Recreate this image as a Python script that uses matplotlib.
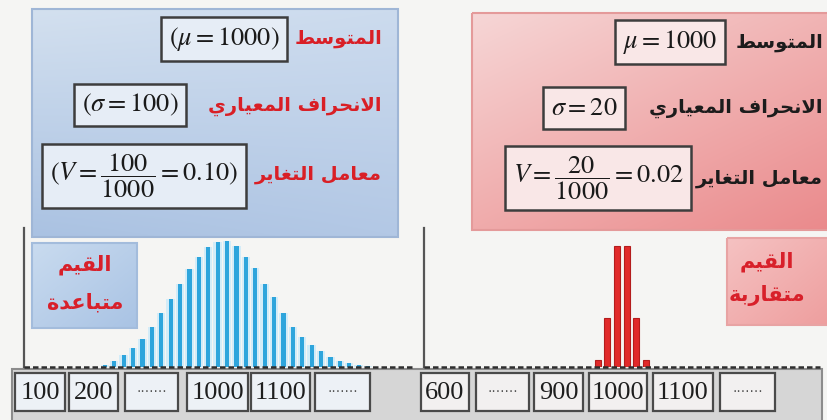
import numpy as np
import matplotlib
matplotlib.use("Agg")
import matplotlib.pyplot as plt
from matplotlib.patches import Rectangle
from matplotlib.colors import to_rgb

# ---- data -------------------------------------------------------------
mean_value = 1000
sigma_spread = 100
sigma_close = 20

# bar heights (relative frequency) of the widely spread values
spread_freq = [2, 6, 12, 19, 28, 40, 54, 68, 83, 98, 110, 120, 125, 126,
               121, 110, 99, 83, 70, 54, 40, 30, 22, 16, 10, 6, 4, 2, 1]
# bar heights (relative frequency) of the closely grouped values
close_freq = [7, 49, 121, 121, 49, 7]

dots = "·······"
spread_ticks = ["100", "200", dots, "1000", "1100", dots]
close_ticks = ["600", dots, "900", "1000", "1100", dots]

stat_names = ["المتوسط", "الانحراف المعياري", "معامل التغاير"]
spread_note = ["القيم", "متباعدة"]
close_note = ["القيم", "متقاربة"]

# ---- minimal Arabic shaping (contextual forms + right-to-left order) ----
_FORMS = {
    "ا": (0xFE8D, 2), "أ": (0xFE83, 2), "إ": (0xFE87, 2), "آ": (0xFE81, 2),
    "ب": (0xFE8F, 4), "ة": (0xFE93, 2), "ت": (0xFE95, 4), "ث": (0xFE99, 4),
    "ج": (0xFE9D, 4), "ح": (0xFEA1, 4), "خ": (0xFEA5, 4), "د": (0xFEA9, 2),
    "ذ": (0xFEAB, 2), "ر": (0xFEAD, 2), "ز": (0xFEAF, 2), "س": (0xFEB1, 4),
    "ش": (0xFEB5, 4), "ص": (0xFEB9, 4), "ض": (0xFEBD, 4), "ط": (0xFEC1, 4),
    "ظ": (0xFEC5, 4), "ع": (0xFEC9, 4), "غ": (0xFECD, 4), "ف": (0xFED1, 4),
    "ق": (0xFED5, 4), "ك": (0xFED9, 4), "ل": (0xFEDD, 4), "م": (0xFEE1, 4),
    "ن": (0xFEE5, 4), "ه": (0xFEE9, 4), "و": (0xFEED, 2), "ى": (0xFEEF, 2),
    "ي": (0xFEF1, 4),
}
_LAM_ALEF = {"ا": 0xFEFB, "أ": 0xFEF7, "إ": 0xFEF9, "آ": 0xFEF5}


def shape_ar(text):
    chars = list(text)
    out = []
    prev_joins = False
    i = 0
    while i < len(chars):
        c = chars[i]
        if c not in _FORMS:
            out.append(c)
            prev_joins = False
            i += 1
            continue
        if c == "ل" and i + 1 < len(chars) and chars[i + 1] in _LAM_ALEF:
            out.append(chr(_LAM_ALEF[chars[i + 1]] + (1 if prev_joins else 0)))
            prev_joins = False
            i += 2
            continue
        base, nforms = _FORMS[c]
        nxt = chars[i + 1] if i + 1 < len(chars) else ""
        joins_next = nforms == 4 and nxt in _FORMS
        if prev_joins and joins_next:
            form = 3
        elif joins_next:
            form = 2
        elif prev_joins:
            form = 1
        else:
            form = 0
        out.append(chr(base + form))
        prev_joins = joins_next
        i += 1
    return "".join(reversed(out))


def stat_texts(mu, sigma, paren):
    v = sigma / mu
    items = [r"\mu = %d" % mu, r"\sigma = %d" % sigma,
             r"V = \dfrac{%d}{%d} = %.2f" % (sigma, mu, v)]
    if paren:
        items = ["(" + s + ")" for s in items]
    return ["$" + s + "$" for s in items]


plt.rcParams["mathtext.fontset"] = "stix"

W, H = 828, 420
fig = plt.figure(figsize=(W / 100, H / 100), dpi=100, facecolor="#f5f5f3")

# background layer in pixel coordinates
bg = fig.add_axes([0, 0, 1, 1])
bg.set_xlim(0, W)
bg.set_ylim(H, 0)
bg.axis("off")


def gradient_panel(x0, x1, y0, y1, c_tl, c_br, c_tr=None, c_bl=None):
    c_tl, c_br = np.array(to_rgb(c_tl)), np.array(to_rgb(c_br))
    c_tr = np.array(to_rgb(c_tr)) if c_tr else (c_tl + c_br) / 2
    c_bl = np.array(to_rgb(c_bl)) if c_bl else (c_tl + c_br) / 2
    u = np.linspace(0, 1, 120)[None, :, None]
    v = np.linspace(0, 1, 80)[:, None, None]
    img = ((1 - u) * (1 - v) * c_tl + u * (1 - v) * c_tr
           + (1 - u) * v * c_bl + u * v * c_br)
    bg.imshow(img, extent=(x0, x1, y1, y0), aspect="auto", zorder=1,
              interpolation="bilinear")


# statistic panels
gradient_panel(32, 398, 9, 237, "#d3e0ef", "#b3c8e5", c_tr="#ccdbee", c_bl="#aac2e2")
bg.add_patch(Rectangle((32, 9), 366, 228, fill=False, ec="#9fb6d6", lw=1.5, zorder=2))
gradient_panel(472, 830, 13, 230, "#f6d6d6", "#ea8a8c", c_tr="#f1b4b4", c_bl="#f0abab")
bg.add_patch(Rectangle((472, 13), 360, 217, fill=False, ec="#e49a9a", lw=1.5, zorder=2))

# note boxes
gradient_panel(32, 137, 243, 328, "#c9dbef", "#a9c3e4")
bg.add_patch(Rectangle((32, 243), 105, 85, fill=False, ec="#a3bcdc", lw=1.5, zorder=2))
gradient_panel(727, 830, 238, 325, "#f5c2c2", "#ee9e9e")
bg.add_patch(Rectangle((727, 238), 103, 87, fill=False, ec="#e8a3a3", lw=1.5, zorder=2))

ar_font = dict(family="DejaVu Sans", fontweight="bold")
for line, y in zip(spread_note, [265, 302]):
    bg.text(85, y, shape_ar(line), ha="center", va="center", fontsize=15,
            color="#d8202a", zorder=3, **ar_font)
for line, y in zip(close_note, [262, 296]):
    bg.text(767, y, shape_ar(line), ha="center", va="center", fontsize=15,
            color="#d8202a", zorder=3, **ar_font)

# statistic rows: Arabic name on the right, boxed formula on its left
spread_stats = stat_texts(mean_value, sigma_spread, paren=True)
close_stats = stat_texts(mean_value, sigma_close, paren=False)

for name, y in zip(stat_names, [39, 106, 174]):
    bg.text(382, y, shape_ar(name), ha="right", va="center", fontsize=14,
            color="#d91f26", zorder=3, **ar_font)
for name, y in zip(stat_names, [42, 108, 178]):
    bg.text(823, y, shape_ar(name), ha="right", va="center", fontsize=14,
            color="#1c1c1c", zorder=3, **ar_font)

box_l = dict(boxstyle="square,pad=0.3", fc="#e6edf6", ec="#3d3d3d", lw=1.8)
box_r = dict(boxstyle="square,pad=0.3", fc="#f9e7e7", ec="#3d3d3d", lw=1.8)
for txt, (x, y) in zip(spread_stats, [(224, 39), (130, 105), (144, 176)]):
    bg.text(x, y, txt, ha="center", va="center", fontsize=19, color="#1a1a1a",
            bbox=box_l, zorder=3)
for txt, (x, y) in zip(close_stats, [(670, 42), (584, 108), (598, 178)]):
    bg.text(x, y, txt, ha="center", va="center", fontsize=19, color="#1a1a1a",
            bbox=box_r, zorder=3)

# value strip along the bottom
bg.add_patch(Rectangle((12, 369), 810, 55, fc="#d6d6d6", ec="#8c8c8c", lw=1.5, zorder=1))
left_slots = [(15, 65), (69, 118), (125, 178), (187, 248), (251, 310), (315, 370)]
right_slots = [(421, 469), (476, 529), (534, 583), (589, 647), (653, 713), (720, 775)]
for labels, slots, fc in [(spread_ticks, left_slots, "#edf1f6"),
                          (close_ticks, right_slots, "#f2f0f0")]:
    for lab, (x0, x1) in zip(labels, slots):
        bg.add_patch(Rectangle((x0, 373), x1 - x0, 38, fc=fc, ec="#4a4a4a",
                               lw=1.6, zorder=2))
        if lab == dots:
            bg.text((x0 + x1) / 2, 392, lab, ha="center", va="center",
                    fontsize=10, color="#555555", zorder=3)
        else:
            bg.text((x0 + x1) / 2, 393, lab, ha="center", va="center",
                    fontsize=19, family="Liberation Serif", color="#1e1e1e",
                    zorder=3)


# ---- frequency bar charts ------------------------------------------------
def px_axes(x0, x1, y_top, y_bot):
    return fig.add_axes([x0 / W, 1 - y_bot / H, (x1 - x0) / W, (y_bot - y_top) / H])


ax_l = px_axes(24, 414, 228, 367)
ax_r = px_axes(424, 820, 228, 367)

idx_l = np.arange(len(spread_freq))
ax_l.bar(idx_l, spread_freq, width=0.9, color="#d3ecf8", zorder=1)
ax_l.bar(idx_l, spread_freq, width=0.45, color="#2ea5dc", zorder=2)
ax_l.set_xlim(-8.6, -8.6 + 390 / 9.4)

idx_r = np.arange(len(close_freq))
ax_r.bar(idx_r, close_freq, width=0.62, color="#e12a2a", edgecolor="#b41c1c",
         lw=0.8, zorder=2)
ax_r.set_xlim(-17.9, -17.9 + 396 / 9.7)

for ax in (ax_l, ax_r):
    ax.set_ylim(0, 139)
    ax.patch.set_alpha(0)
    for s in ("top", "right", "bottom"):
        ax.spines[s].set_visible(False)
    ax.spines["left"].set_color("#555555")
    ax.spines["left"].set_linewidth(1.6)
    ax.set_xticks([])
    ax.set_yticks([])
    ax.axhline(0, color="#2e2e2e", lw=1.8, ls=(0, (2.2, 1.2)), clip_on=False,
               zorder=3)

fig.savefig("out.png", dpi=100, facecolor=fig.get_facecolor())
